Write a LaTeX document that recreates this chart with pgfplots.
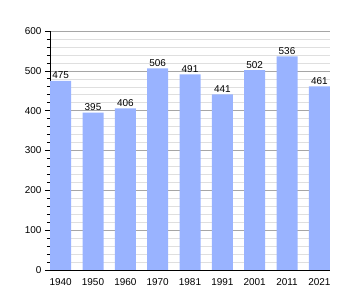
\documentclass[border=0pt]{standalone}
\usepackage{fontspec}
\setmainfont{Liberation Sans}
\usepackage{pgfplots}
\pgfplotsset{compat=1.18}
\definecolor{barblue}{HTML}{99B3FF}
\begin{document}
\begin{tikzpicture}
\begin{axis}[
  at={(0,0)}, anchor=south west,
  scale only axis, width=280bp, height=239bp,
  xmin=-0.33, xmax=8.33, ymin=0, ymax=600,
  axis x line*=bottom, axis y line*=left,
  axis line style={black, line width=0.8pt},
  xtick=data,
  xticklabels={1940,1950,1960,1970,1981,1991,2001,2011,2021},
  x tick style={draw=none},
  ytick={0,100,...,600},
  minor ytick={20,40,...,580},
  tick align=outside,
  major tick length=5bp, minor tick length=3bp,
  y tick style={black, line width=0.6pt},
  minor y tick style={black, line width=0.6pt},
  ymajorgrids, yminorgrids,
  major grid style={gray!70, line width=0.6pt},
  minor grid style={gray!25, line width=0.5pt},
  tick label style={font=\fontsize{10}{11}\selectfont},
  /pgf/number format/assume math mode=true,
  ybar, bar width=21bp,
  nodes near coords,
  nodes near coords style={font=\fontsize{10}{11}\selectfont, text=black, inner sep=1.5pt},
]
\addplot[fill=barblue, draw=none] coordinates {(0,475) (1,395) (2,406) (3,506) (4,491) (5,441) (6,502) (7,536) (8,461)};
\end{axis}
\pgfresetboundingbox
\path (-50bp,-30bp) rectangle (310bp,270bp);
\end{tikzpicture}
\end{document}
